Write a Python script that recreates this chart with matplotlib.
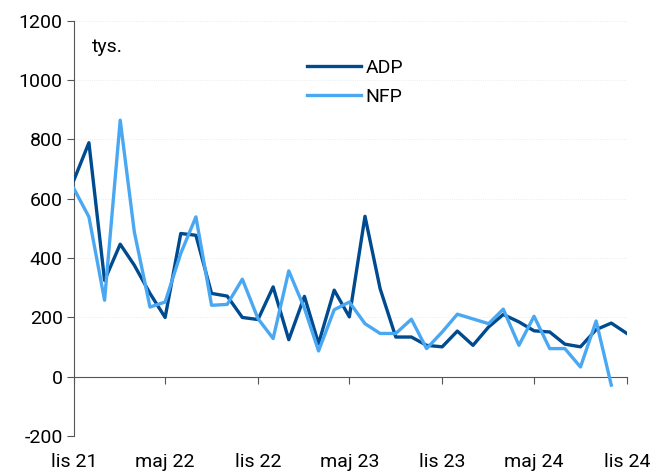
import matplotlib
matplotlib.use('Agg')
import matplotlib.pyplot as plt
import pandas as pd

# ADP vs private NFP, monthly change, thousands
months = pd.date_range('2021-11-01', periods=37, freq='MS')
adp = [662, 789, 325, 447, 376, 281, 200, 483, 477, 281, 272, 200, 193, 303, 125,
       271, 112, 292, 202, 541, 297, 134, 134, 106, 101, 154, 106, 168, 210, 185,
       155, 151, 110, 101, 159, 181, 146]
nfp = [635, 539, 258, 865, 488, 235, 252, 416, 539, 241, 244, 329, 196, 129, 357,
       231, 87, 226, 252, 179, 146, 146, 194, 95, 151, 211, 195, 179, 228, 106,
       204, 95, 95, 33, 188, -28]
tick_months = months[::6]
tick_labels = ['lis 21', 'maj 22', 'lis 22', 'maj 23', 'lis 23', 'maj 24', 'lis 24']

plt.rcParams['font.family'] = ['Roboto', 'DejaVu Sans']
plt.rcParams['font.size'] = 14
plt.rcParams['axes.unicode_minus'] = False

fig = plt.figure(figsize=(6.5, 4.73), dpi=100)
ax = fig.add_axes([0.1135, 0.078, 0.851, 0.878])

ax.plot(months, adp, color='#004a8f', lw=2.4, label='ADP', zorder=3)
ax.plot(months[:len(nfp)], nfp, color='#4aa8f2', lw=2.4, label='NFP', zorder=3)

ax.set_ylim(-200, 1200)
ax.set_yticks(range(-200, 1201, 200))
ax.set_xlim(months[0], months[-1])
ax.grid(axis='y', color='#e6e6e6', lw=0.6, ls=':')

axcol = '#555555'
for s in ['top', 'right']:
    ax.spines[s].set_visible(False)
ax.spines['left'].set_color(axcol)
ax.spines['bottom'].set_color(axcol)
ax.spines['bottom'].set_position(('data', 0))
ax.tick_params(axis='y', direction='out', length=5, color=axcol, pad=3)
ax.set_xticks(tick_months)
ax.tick_params(axis='x', direction='out', length=5, color=axcol, labelbottom=False)

# month labels along the bottom edge
sec = ax.secondary_xaxis(0)
sec.set_xticks(tick_months)
sec.set_xticklabels(tick_labels)
sec.tick_params(length=0, pad=12)
sec.spines['bottom'].set_visible(False)

ax.text(0.033, 1111, 'tys.', transform=ax.get_yaxis_transform(), va='center', ha='left')

ax.legend(loc='upper left', bbox_to_anchor=(0.39, 0.95), frameon=False,
          handlelength=2.8, handletextpad=0.2, labelspacing=0.55)

plt.savefig('out.png', dpi=100)
